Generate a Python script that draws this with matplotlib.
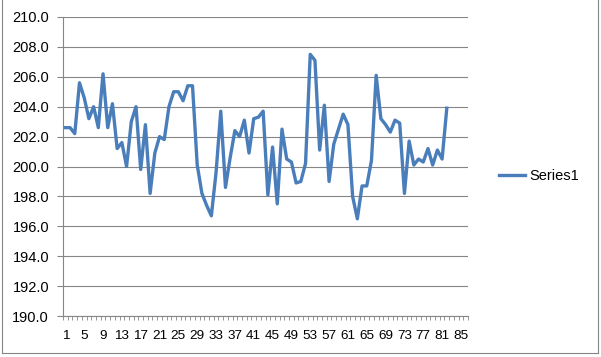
import numpy as np
import matplotlib
matplotlib.use("Agg")
import matplotlib.pyplot as plt
from matplotlib.lines import Line2D
from matplotlib.ticker import FixedLocator, FormatStrFormatter

# values, categories 1..82
series1 = [
    202.6, 202.6, 202.2, 205.6, 204.6, 203.2, 204.0, 202.6, 206.2, 202.6,
    204.2, 201.2, 201.6, 200.0, 203.0, 204.0, 199.8, 202.8, 198.2, 200.9,
    202.0, 201.8, 204.0, 205.0, 205.0, 204.4, 205.4, 205.4, 200.1, 198.2,
    197.4, 196.7, 199.6, 203.7, 198.6, 200.6, 202.4, 202.0, 203.1, 200.9,
    203.2, 203.3, 203.7, 198.1, 201.3, 197.5, 202.5, 200.5, 200.3, 198.9,
    199.0, 200.2, 207.5, 207.1, 201.1, 204.1, 199.0, 201.5, 202.5, 203.5,
    202.8, 198.0, 196.5, 198.7, 198.7, 200.4, 206.1, 203.2, 202.8, 202.3,
    203.1, 202.9, 198.2, 201.7, 200.1, 200.5, 200.3, 201.2, 200.1, 201.1,
    200.5, 203.9,
]
n_categories = 86
x_labels = list(range(1, n_categories + 1, 4))
y_ticks = np.arange(190, 211, 2)

plt.rcParams["font.family"] = ["Liberation Sans", "DejaVu Sans"]

fig = plt.figure(figsize=(6.01, 3.57), dpi=100)
ax = fig.add_axes([63 / 601, 1 - 316 / 357, (468 - 63) / 601, (316 - 17) / 357])

x = np.arange(1, len(series1) + 1)
ax.plot(x, series1, color="#4A7EBB", linewidth=2.4, solid_joinstyle="round",
        label="Series1", zorder=3)

ax.set_xlim(0.5, n_categories + 0.5)
ax.set_ylim(190, 210)
ax.set_yticks(y_ticks)
ax.yaxis.set_major_formatter(FormatStrFormatter("%.1f"))
ax.set_xticks(x_labels)
ax.set_xticklabels([str(v) for v in x_labels])
ax.xaxis.set_minor_locator(FixedLocator(np.arange(0.5, n_categories + 1, 1)))

grid_color = "#868686"
ax.grid(axis="y", color=grid_color, linewidth=0.8)
ax.set_axisbelow(True)
for side in ["top", "right"]:
    ax.spines[side].set_visible(False)
for side in ["left", "bottom"]:
    ax.spines[side].set_color(grid_color)
    ax.spines[side].set_linewidth(0.8)

ax.tick_params(axis="y", length=4, width=0.8, color=grid_color, pad=6,
               labelsize=10.5, labelcolor="black")
ax.tick_params(axis="x", which="major", length=0, pad=10, labelsize=9.7,
               labelcolor="black")
ax.tick_params(axis="x", which="minor", length=3, width=0.6, color=grid_color)

handle = Line2D([], [], color="#4A7EBB", linewidth=2.4)
fig.legend([handle], ["Series1"], loc="center left", frameon=False,
           bbox_to_anchor=(499 / 601, 1 - 176 / 357), borderpad=0,
           borderaxespad=0, handlelength=1.8, handletextpad=0.3, fontsize=10.5)

# chart area border
border = dict(color="#868686", linewidth=0.8, transform=fig.transFigure)
fig.add_artist(Line2D([1.5 / 601, 1.5 / 601], [4 / 357, 1], **border))
fig.add_artist(Line2D([1.5 / 601, 597.5 / 601], [4 / 357, 4 / 357], **border))
fig.add_artist(Line2D([597.5 / 601, 597.5 / 601], [4 / 357, 1], **border))

fig.savefig("out.png", dpi=100)
